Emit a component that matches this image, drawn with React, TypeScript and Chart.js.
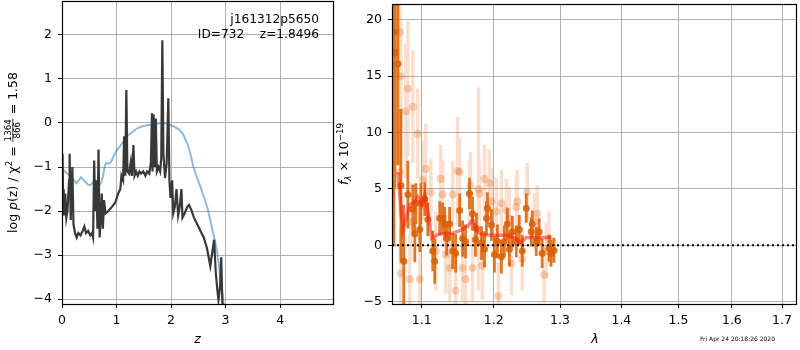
import React, { useEffect, useRef } from "react";
import { Chart, registerables } from "chart.js";
Chart.register(...registerables);

// ---------- Left panel: log p(z) ----------
const zDark = [0.00,0.01,0.02,0.03,0.04,0.06,0.08,0.10,0.13,0.14,0.16,0.19,0.21,0.24,0.27,0.30,0.34,0.38,0.41,0.44,0.48,0.52,0.55,0.57,0.59,0.61,0.63,0.65,0.67,0.69,0.71,0.73,0.75,0.77,0.80,0.85,0.92,0.98,1.03,1.07,1.09,1.12,1.14,1.16,1.18,1.20,1.23,1.26,1.28,1.31,1.33,1.36,1.39,1.42,1.45,1.49,1.53,1.56,1.60,1.63,1.65,1.66,1.68,1.70,1.72,1.74,1.77,1.80,1.82,1.84,1.86,1.89,1.92,1.95,1.97,1.99,2.02,2.04,2.07,2.10,2.13,2.16,2.19,2.21,2.25,2.30,2.33,2.38,2.42,2.48,2.54,2.60,2.66,2.72,2.76,2.79,2.82,2.85,2.87,2.90,2.92,2.94,2.96];
const logPz = [-1.6,-0.7,-1.9,-1.5,-2.1,-1.6,-2.15,-2.0,-1.3,-0.7,-2.2,-1.0,-2.3,-2.5,-2.6,-2.5,-2.55,-2.45,-2.35,-2.5,-2.45,-2.55,-2.5,-2.6,-0.85,-2.0,-1.3,-2.4,-0.6,-2.6,-2.2,-1.6,-2.4,-1.75,-2.05,-2.0,-1.9,-1.8,-1.6,-1.5,-1.2,-1.3,-0.3,-1.2,0.75,-1.1,-1.15,-0.9,-1.2,-0.5,-1.2,-1.1,-1.2,-1.1,-1.15,-1.1,-1.2,-1.1,-1.15,-0.9,0.22,-1.1,0.2,-1.0,0.1,-1.1,-1.0,-1.1,-0.8,1.88,-0.7,-1.25,-0.9,0.56,-1.3,-1.7,-1.3,-2.05,-1.9,-1.5,-2.1,-1.9,-1.5,-2.15,-2.05,-1.9,-1.86,-2.0,-2.15,-2.3,-2.45,-2.6,-2.85,-3.25,-2.9,-2.65,-3.4,-3.8,-4.02,-3.7,-3.05,-4.05,-4.4];
const zPrior = [0,0.05,0.1,0.17,0.22,0.26,0.31,0.35,0.42,0.48,0.52,0.57,0.6,0.64,0.68,0.72,0.75,0.79,0.81,0.85,0.9,0.95,1.0,1.07,1.15,1.22,1.3,1.38,1.46,1.56,1.65,1.75,1.86,1.95,2.05,2.17,2.23,2.28,2.32,2.37,2.41,2.47,2.54,2.6,2.66,2.71,2.76,2.81,2.85,2.88,2.9,2.93,2.95,2.98];
const logPrior = [-1.0,-1.1,-1.15,-1.23,-1.3,-1.37,-1.3,-1.23,-1.33,-1.4,-1.41,-1.35,-1.3,-1.38,-1.43,-1.35,-1.22,-0.95,-0.91,-0.93,-0.88,-0.75,-0.62,-0.52,-0.38,-0.27,-0.2,-0.12,-0.08,-0.05,-0.04,-0.02,0.0,-0.03,-0.08,-0.17,-0.28,-0.42,-0.54,-0.78,-1.0,-1.22,-1.45,-1.67,-1.9,-2.15,-2.43,-2.7,-2.96,-3.25,-3.5,-3.75,-3.95,-4.3];
const zTicks = [0, 1, 2, 3, 4];
const logpTicks = [-4, -3, -2, -1, 0, 1, 2];

// ---------- Right panel: spectrum ----------
const darkLam = [1.0636,1.0649,1.0687,1.0726,1.0764,1.0816,1.0882,1.0908,1.0921,1.0974,1.0987,1.1040,1.1080,1.1146,1.1173,1.1241,1.1281,1.1309,1.1336,1.1376,1.1418,1.1459,1.1515,1.1556,1.1597,1.1653,1.1695,1.1737,1.1751,1.1823,1.1866,1.1894,1.1908,1.1966,1.2009,1.2053,1.2111,1.2154,1.2198,1.2228,1.2272,1.2331,1.2375,1.2420,1.2480,1.2555,1.2570,1.2631,1.2676,1.2722,1.2829,1.2860,1.2906];
const darkFlux = [18.9,17.1,16.1,5.3,-1.4,4.5,3.2,1.0,3.7,1.4,3.7,4.1,2.3,-0.5,-1.4,2.4,2.4,1.9,0.6,1.9,-0.5,-0.7,3.1,0.6,0.35,4.6,2.8,0.5,1.5,0.2,-0.35,2.4,3.3,1.8,-0.8,0.35,-1.0,0.35,1.9,-0.35,1.2,0.35,1.4,-0.5,3.3,1.2,1.9,0.35,1.2,-0.7,-0.25,-0.7,-0.45];
const darkErr = [19,12,9,6.8,5,3,2.2,2.5,1.8,2,1.8,1.5,1.5,1.8,2,1.5,1.4,1.5,1.5,1.5,1.6,1.7,1.5,1.6,1.5,1.4,1.5,1.5,1.4,1.5,1.6,1.5,1.4,1.4,1.6,1.5,1.5,1.4,1.4,1.5,1.4,1.4,1.3,1.4,1.3,1.3,1.2,1.3,1.2,1.3,1.2,1.2,1.1];
const lightLam = [1.0713,1.0713,1.0726,1.0726,1.0790,1.0816,1.0842,1.0855,1.0882,1.0947,1.0974,1.1013,1.1053,1.1120,1.1187,1.1254,1.1281,1.1322,1.1376,1.1418,1.1459,1.1486,1.1515,1.1556,1.1597,1.1653,1.1667,1.1695,1.1780,1.1794,1.1837,1.1866,1.1937,1.1966,1.2038,1.2067,1.2111,1.2184,1.2228,1.2257,1.2331,1.2346,1.2420,1.2495,1.2600,1.2646,1.2752,1.2783,1.2829];
const lightFlux = [18.9,6.5,15.0,-2.5,11.9,13.9,-3.0,2.1,12.3,9.9,-3.0,5.8,6.8,4.7,-0.5,5.9,4.5,-0.8,-2.0,4.5,-4.0,6.6,6.5,-2.0,-3.0,4.5,5.3,-2.0,5.0,4.6,-1.8,5.9,5.5,3.9,3.0,-4.5,3.7,3.1,2.4,-1.6,3.4,3.9,-1.2,4.7,2.1,2.8,-2.6,-0.5,0.6];
const lightErr = [4,4,5,4,6,6,4,3.5,5,4,4,3.5,4,3,3.5,3,3,3.5,3,3,3.5,4.8,3,3,3,3,3,3,9,3,3,3,3,3,3,3,3,2.8,2.8,2.8,2.8,2.8,2.8,2.6,2.5,2.5,2.5,2.5,2.4];
const modelLam = [1.0687,1.0752,1.0842,1.0908,1.0947,1.1000,1.1040,1.1080,1.1133,1.1213,1.1309,1.1404,1.1515,1.1626,1.1697,1.1767,1.1838,1.1980,1.2182,1.2331,1.2391,1.2481,1.2632,1.2864];
const modelFlux = [6.5,1.4,3.6,3.9,4.3,3.6,4.5,3.0,0.6,0.95,1.05,1.05,1.3,1.7,2.3,1.2,0.95,0.9,0.9,0.6,0.2,0.7,0.7,0.7];
const lamTicks = [1.1, 1.2, 1.3, 1.4, 1.5, 1.6, 1.7];
const fluxTicks = [-5, 0, 5, 10, 15, 20];

const FONT = "DejaVu Sans";
const SZ = 12.5;
const minus = (v: number, d = 0) => (v < 0 ? "\u2212" : "") + Math.abs(v).toFixed(d);

type Piece = { text: string; font: string; dy: number; frac?: [string, string] };

function drawPieces(ctx: CanvasRenderingContext2D, pieces: Piece[], bx: number, cy: number) {
  ctx.save();
  ctx.translate(bx, cy);
  ctx.rotate(-Math.PI / 2);
  ctx.fillStyle = "#000";
  ctx.textBaseline = "alphabetic";
  ctx.textAlign = "left";
  const widths = pieces.map((p) => {
    ctx.font = p.font;
    if (p.frac) return Math.max(ctx.measureText(p.frac[0]).width, ctx.measureText(p.frac[1]).width) + 2;
    return ctx.measureText(p.text).width;
  });
  const total = widths.reduce((a, b) => a + b, 0);
  let x = -total / 2;
  pieces.forEach((p, i) => {
    ctx.font = p.font;
    if (p.frac) {
      const w = widths[i];
      const bar = -4.2;
      ctx.textAlign = "center";
      ctx.fillText(p.frac[0], x + w / 2, bar - 1.6);
      ctx.fillText(p.frac[1], x + w / 2, bar + 7.6);
      ctx.textAlign = "left";
      ctx.fillRect(x + 0.5, bar - 0.4, w - 1, 0.8);
    } else {
      ctx.fillText(p.text, x, p.dy);
    }
    x += widths[i];
  });
  ctx.restore();
}

function frame(chart: any) {
  const { ctx, chartArea: a } = chart;
  ctx.save();
  ctx.strokeStyle = "#000";
  ctx.lineWidth = 1.2;
  ctx.strokeRect(Math.round(a.left) + 0.5, Math.round(a.top) + 0.5, Math.round(a.right - a.left), Math.round(a.bottom - a.top));
  ctx.restore();
}

const leftPlugin = {
  id: "leftDeco",
  afterDraw(chart: any) {
    frame(chart);
    const { ctx, chartArea: a } = chart;
    ctx.save();
    ctx.fillStyle = "#000";
    ctx.font = `12.2px "${FONT}"`;
    ctx.textAlign = "right";
    ctx.textBaseline = "middle";
    ctx.fillText("j161312p5650", 319, 20);
    ctx.fillText("ID=732    z=1.8496", 319, 35);
    ctx.font = `italic ${SZ}px "${FONT}"`;
    ctx.textAlign = "center";
    ctx.fillText("z", (a.left + a.right) / 2, 340);
    ctx.restore();
    const F = `${SZ}px "${FONT}"`;
    const FI = `italic ${SZ}px "${FONT}"`;
    const FS = `8.7px "${FONT}"`;
    drawPieces(ctx, [
      { text: "log ", font: F, dy: 0 },
      { text: "p", font: FI, dy: 0 },
      { text: "(z) / \u03c7", font: F, dy: 0 },
      { text: "2", font: FS, dy: -5.5 },
      { text: " = ", font: F, dy: 0 },
      { text: "", font: FS, dy: 0, frac: ["1364", "866"] },
      { text: " = 1.58", font: F, dy: 0 },
    ], 17, (a.top + a.bottom) / 2);
  },
};

const rightPlugin = {
  id: "rightDeco",
  afterDraw(chart: any) {
    frame(chart);
    const { ctx, chartArea: a } = chart;
    ctx.save();
    ctx.fillStyle = "#000";
    ctx.font = `italic ${SZ}px "${FONT}"`;
    ctx.textAlign = "center";
    ctx.textBaseline = "middle";
    ctx.fillText("\u03bb", 595 - 330, 340);
    ctx.font = `6px "${FONT}"`;
    ctx.textAlign = "left";
    ctx.fillText("Fri Apr 24 20:18:26 2020", 700 - 330, 339);
    ctx.restore();
    const F = `${SZ}px "${FONT}"`;
    const FI = `italic ${SZ}px "${FONT}"`;
    const FS = `8.7px "${FONT}"`;
    const FSI = `italic 8.7px "${FONT}"`;
    drawPieces(ctx, [
      { text: "f", font: FI, dy: 0 },
      { text: "\u03bb", font: FSI, dy: 2.5 },
      { text: " \u00d7 10", font: F, dy: 0 },
      { text: "\u221219", font: FS, dy: -5.5 },
    ], 348 - 330, (a.top + a.bottom) / 2);
  },
};

function errSegments(lam: number[], flux: number[], err: number[]) {
  const out: any[] = [];
  lam.forEach((l, i) => {
    out.push({ x: l, y: flux[i] - err[i] }, { x: l, y: flux[i] + err[i] }, { x: l, y: null });
  });
  return out;
}

const tickFont = { family: FONT, size: SZ };
const noPad = (s: any) => { s.paddingTop = 0; s.paddingBottom = 0; s.paddingLeft = 0; s.paddingRight = 0; };
const gridOpts = { color: "#b0b0b0", tickColor: "#000", tickLength: 4, lineWidth: 1 };

function LeftChart() {
  const ref = useRef<HTMLCanvasElement>(null);
  useEffect(() => {
    const chart = new Chart(ref.current!, {
      type: "line",
      data: {
        datasets: [
          {
            data: zDark.map((z, i) => ({ x: z, y: logPz[i] })),
            borderColor: "#383838",
            borderWidth: 2.2,
            pointRadius: 0,
            tension: 0,
          },
          {
            data: zPrior.map((z, i) => ({ x: z, y: logPrior[i] })),
            borderColor: "rgba(31,119,180,0.5)",
            borderWidth: 2,
            pointRadius: 0,
            tension: 0,
          },
        ],
      },
      options: {
        animation: false,
        responsive: false,
        layout: { padding: { top: 1, right: 7, left: 0, bottom: 0 } },
        plugins: { legend: { display: false }, tooltip: { enabled: false } },
        scales: {
          x: {
            type: "linear",
            min: 0,
            max: 4.97,
            afterBuildTicks: (s: any) => { s.ticks = zTicks.map((v) => ({ value: v })); },
            afterFit: (s: any) => { s.height = 46; noPad(s); },
            grid: gridOpts,
            border: { display: false },
            ticks: { color: "#000", font: tickFont, padding: 5, maxRotation: 0, callback: (v: any) => minus(Number(v)) },
          },
          y: {
            type: "linear",
            min: -4.11,
            max: 2.77,
            afterBuildTicks: (s: any) => { s.ticks = logpTicks.map((v) => ({ value: v })); },
            afterFit: (s: any) => { s.width = 62; noPad(s); },
            grid: gridOpts,
            border: { display: false },
            ticks: { color: "#000", font: tickFont, padding: 6, callback: (v: any) => minus(Number(v)) },
          },
        },
      },
      plugins: [leftPlugin],
    } as any);
    return () => chart.destroy();
  }, []);
  return <canvas ref={ref} width={340} height={350} style={{ position: "absolute", left: 0, top: 0 }} />;
}

function RightChart() {
  const ref = useRef<HTMLCanvasElement>(null);
  useEffect(() => {
    const chart = new Chart(ref.current!, {
      type: "line",
      data: {
        datasets: [
          {
            data: [{ x: 1.0611, y: 0 }, { x: 1.7289, y: 0 }],
            borderColor: "#000",
            borderWidth: 2,
            borderDash: [2, 3],
            pointRadius: 0,
          },
          {
            data: modelLam.map((l, i) => ({ x: l, y: modelFlux[i] })),
            borderColor: "rgba(255,20,20,0.5)",
            borderWidth: 3.5,
            pointRadius: 0,
            tension: 0,
          },
          {
            data: darkLam.map((l, i) => ({ x: l, y: darkFlux[i] })),
            showLine: false,
            pointRadius: 3.5,
            pointBorderWidth: 0,
            pointBackgroundColor: "rgba(217,95,2,0.85)",
          },
          {
            data: errSegments(darkLam, darkFlux, darkErr),
            borderColor: "rgba(217,95,2,0.85)",
            borderWidth: 2.8,
            pointRadius: 0,
            spanGaps: false,
            borderCapStyle: "butt",
          },
          {
            data: lightLam.map((l, i) => ({ x: l, y: lightFlux[i] })),
            showLine: false,
            pointRadius: 4,
            pointBorderWidth: 0,
            pointBackgroundColor: "rgba(230,110,30,0.3)",
          },
          {
            data: errSegments(lightLam, lightFlux, lightErr),
            borderColor: "rgba(230,110,30,0.22)",
            borderWidth: 3.5,
            pointRadius: 0,
            spanGaps: false,
            borderCapStyle: "butt",
          },
        ],
      },
      options: {
        animation: false,
        responsive: false,
        layout: { padding: { top: 1, right: 2, left: 0, bottom: 0 } },
        plugins: { legend: { display: false }, tooltip: { enabled: false } },
        scales: {
          x: {
            type: "logarithmic",
            min: 1.0611,
            max: 1.7289,
            afterBuildTicks: (s: any) => { s.ticks = lamTicks.map((v) => ({ value: v })); },
            afterFit: (s: any) => { s.height = 46; noPad(s); },
            grid: gridOpts,
            border: { display: false },
            ticks: { color: "#000", font: tickFont, padding: 5, maxRotation: 0, autoSkip: false, callback: (v: any) => Number(v).toFixed(1) },
          },
          y: {
            type: "linear",
            min: -5.2,
            max: 21.4,
            afterBuildTicks: (s: any) => { s.ticks = fluxTicks.map((v) => ({ value: v })); },
            afterFit: (s: any) => { s.width = 62; noPad(s); },
            grid: gridOpts,
            border: { display: false },
            ticks: { color: "#000", font: tickFont, padding: 6, callback: (v: any) => minus(Number(v)) },
          },
        },
      },
      plugins: [rightPlugin],
    } as any);
    return () => chart.destroy();
  }, []);
  return <canvas ref={ref} width={470} height={350} style={{ position: "absolute", left: 330, top: 0 }} />;
}

export default function App() {
  return (
    <div style={{ position: "fixed", left: 0, top: 0, width: 800, height: 350, background: "#fff" }}>
      <LeftChart />
      <RightChart />
    </div>
  );
}
